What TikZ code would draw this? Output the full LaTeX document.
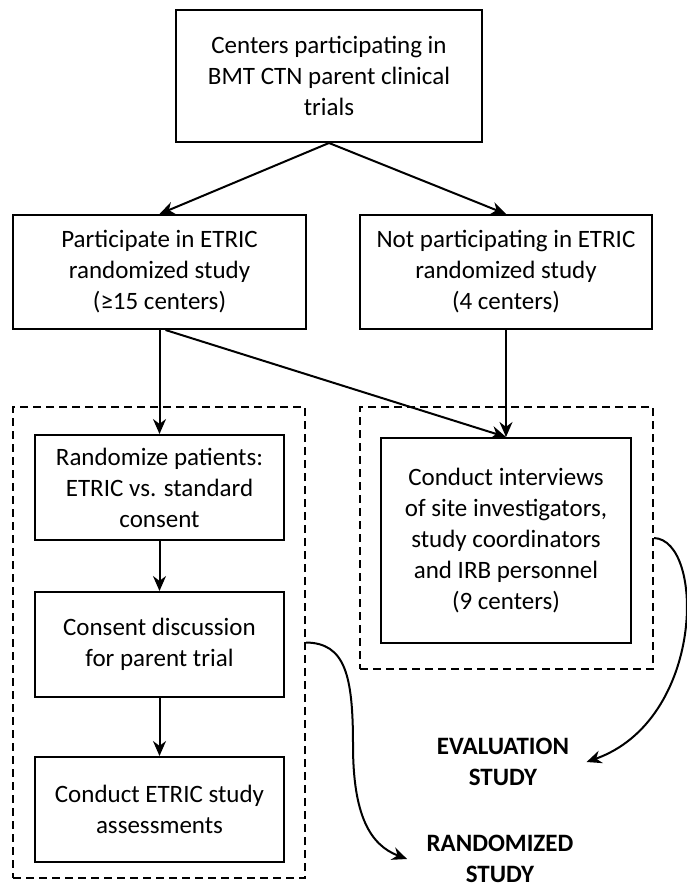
\documentclass[tikz,border=0pt]{standalone}
\usepackage{fontspec}
\setmainfont{Carlito}
\usetikzlibrary{arrows.meta}

\tikzset{
  box/.style={draw, line width=2pt, align=center, inner sep=0pt},
  groupbox/.style={draw, line width=2pt, dash pattern=on 8pt off 5pt, inner sep=0pt},
  arr/.style={line width=2pt, -{Stealth[length=15pt, width=13pt]}},
  studytext/.style={align=center, font=\fontsize{25}{31}\selectfont\bfseries}
}

\begin{document}
\begin{tikzpicture}[x=1pt, y=-1pt, font=\fontsize{25}{31}\selectfont]
    \useasboundingbox (0,0) rectangle (686,888);

    \node[box, minimum width=306pt, minimum height=132pt] (centers) at (329,76) {Centers participating in\\BMT CTN parent clinical\\trials};
    \node[box, minimum width=293pt, minimum height=114pt] (partic) at (159.5,272) {Participate in ETRIC\\randomized study\\(≥15 centers)};
    \node[box, minimum width=292pt, minimum height=114pt] (nonpart) at (506,272) {Not participating in ETRIC\\randomized study\\(4 centers)};

    \node[groupbox, minimum width=292pt, minimum height=471pt] (randgroup) at (159,642.5) {};
    \node[box, minimum width=249pt, minimum height=105pt] (randomize) at (159.5,487.5) {Randomize patients:\\ETRIC vs. standard\\consent};
    \node[box, minimum width=249pt, minimum height=105pt] (consent) at (159.5,644.5) {Consent discussion\\for parent trial};
    \node[box, minimum width=249pt, minimum height=105pt] (assess) at (159.5,809.5) {Conduct ETRIC study\\assessments};

    \node[groupbox, minimum width=293pt, minimum height=262pt] (evalgroup) at (506.5,538) {};
    \node[box, minimum width=250pt, minimum height=205pt] (interviews) at (506,540.5) {Conduct interviews\\of site investigators,\\study coordinators\\and IRB personnel\\(9 centers)};

    \node[studytext] (evallabel) at (503,762) {EVALUATION\\STUDY};
    \node[studytext] (randlabel) at (500,859) {RANDOMIZED\\STUDY};

    \draw[arr] (centers.south) -- (partic.north);
    \draw[arr] (centers.south) -- (nonpart.north);
    \draw[arr] (partic.south) -- (randomize.north);
    \draw[arr] ([xshift=6pt]partic.south) -- (interviews.north);
    \draw[arr] (nonpart.south) -- (interviews.north);
    \draw[arr] (randomize.south) -- (consent.north);
    \draw[arr] (consent.south) -- (assess.north);

    \draw[arr] (evalgroup.east) .. controls (705,540) and (705,720) .. ([xshift=14pt]evallabel.east);
    \draw[arr] (randgroup.east) .. controls (345,643) and (353,675) .. (353,745)
        .. controls (353,815) and (370,845) .. ([xshift=-16pt]randlabel.west);
\end{tikzpicture}
\end{document}
